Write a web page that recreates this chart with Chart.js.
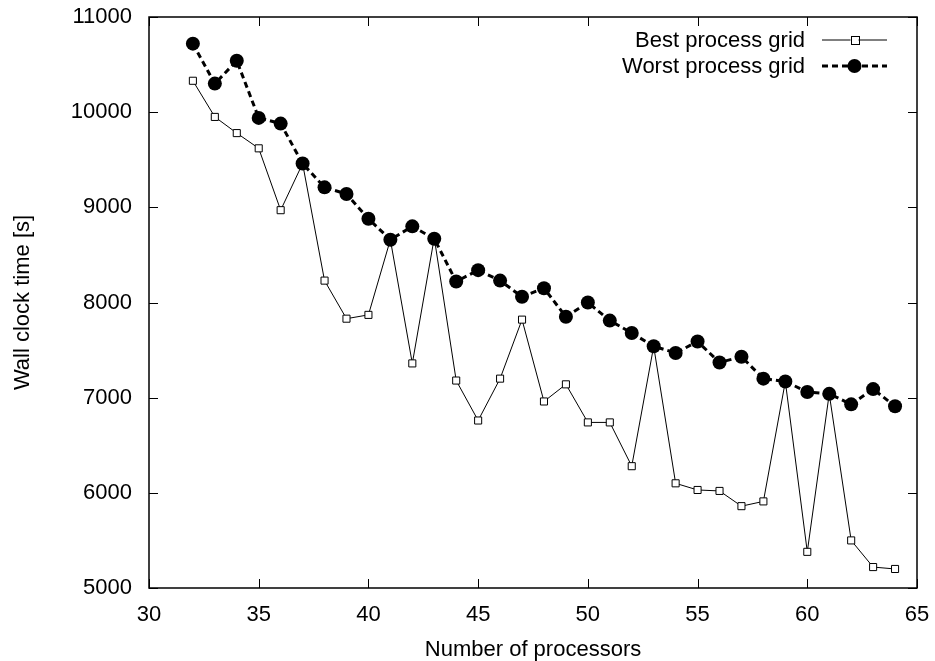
<!DOCTYPE html>
<html>
<head>
<meta charset="utf-8">
<script src="https://cdn.jsdelivr.net/npm/chart.js@4"></script>
<style>
  html, body { margin: 0; padding: 0; background: #fff; }
  #wrap { width: 935px; height: 661px; }
</style>
</head>
<body>
<div id="wrap"><canvas id="timeChart" width="935" height="661"></canvas></div>
<script>
// processor counts and wall clock times
const processors = [32, 33, 34, 35, 36, 37, 38, 39, 40, 41, 42, 43, 44, 45, 46, 47, 48,
  49, 50, 51, 52, 53, 54, 55, 56, 57, 58, 59, 60, 61, 62, 63, 64];
const bestGrid = [10330, 9950, 9780, 9620, 8970, 9460, 8230, 7830, 7870, 8660, 7360, 8680,
  7180, 6760, 7200, 7820, 6960, 7140, 6740, 6740, 6280, 7540, 6100, 6030, 6020, 5860, 5910,
  7170, 5380, 7040, 5500, 5220, 5200];
const worstGrid = [10720, 10300, 10540, 9940, 9880, 9460, 9210, 9140, 8880, 8660, 8800, 8670,
  8220, 8340, 8230, 8060, 8150, 7850, 8000, 7810, 7680, 7540, 7470, 7590, 7370, 7430, 7200,
  7170, 7060, 7040, 6930, 7090, 6910];
const seriesNames = ['Best process grid', 'Worst process grid'];
const xTicks = [30, 35, 40, 45, 50, 55, 60, 65];
const yTicks = [5000, 6000, 7000, 8000, 9000, 10000, 11000];

const FONT = "'Liberation Sans', Arial, Helvetica, sans-serif";
const FONT_SIZE = 22;

// gnuplot-style frame: full border plus inward ticks on all four sides
const framePlugin = {
  id: 'frame',
  afterDatasetsDraw(chart) {
    const { ctx, chartArea: a, scales } = chart;
    ctx.save();
    ctx.strokeStyle = '#000';
    ctx.lineWidth = 1.5;
    ctx.strokeRect(a.left, a.top, a.right - a.left, a.bottom - a.top);
    ctx.lineWidth = 1;
    const len = 9;
    ctx.beginPath();
    xTicks.forEach(v => {
      const x = Math.round(scales.x.getPixelForValue(v)) + 0.5;
      ctx.moveTo(x, a.bottom); ctx.lineTo(x, a.bottom - len);
      ctx.moveTo(x, a.top); ctx.lineTo(x, a.top + len);
    });
    yTicks.forEach(v => {
      const y = Math.round(scales.y.getPixelForValue(v)) + 0.5;
      ctx.moveTo(a.left, y); ctx.lineTo(a.left + len, y);
      ctx.moveTo(a.right, y); ctx.lineTo(a.right - len, y);
    });
    ctx.stroke();
    ctx.restore();
  }
};

// key in the top right corner, text right-aligned with sample line after it
const keyPlugin = {
  id: 'key',
  afterDraw(chart) {
    const { ctx, chartArea: a } = chart;
    ctx.save();
    ctx.font = FONT_SIZE + 'px ' + FONT;
    ctx.textAlign = 'right';
    ctx.textBaseline = 'middle';
    chart.data.datasets.forEach((ds, i) => {
      const y = a.top + 23 + i * 26;
      ctx.fillStyle = '#000';
      ctx.fillText(ds.label, a.left + 656, y + 1);
      const x0 = a.left + 673, x1 = a.left + 738, xm = (x0 + x1) / 2;
      ctx.strokeStyle = '#000';
      ctx.lineWidth = ds.borderWidth;
      ctx.setLineDash(ds.borderDash || []);
      ctx.beginPath();
      ctx.moveTo(x0, y); ctx.lineTo(x1, y);
      ctx.stroke();
      ctx.setLineDash([]);
      if (ds.pointStyle === 'rect') {
        ctx.fillStyle = '#fff';
        ctx.lineWidth = 1;
        ctx.fillRect(xm - 4, y - 4, 8, 8);
        ctx.strokeRect(Math.round(xm - 4) + 0.5, Math.round(y - 4) + 0.5, 8, 8);
      } else {
        ctx.fillStyle = '#000';
        ctx.beginPath();
        ctx.arc(xm, y, ds.pointRadius, 0, Math.PI * 2);
        ctx.fill();
      }
    });
    ctx.restore();
  }
};

const ctx = document.getElementById('timeChart').getContext('2d');
const timeChart = new Chart(ctx, {
  type: 'line',
  data: {
    datasets: [{
      label: seriesNames[0],
      data: processors.map((p, i) => ({ x: p, y: bestGrid[i] })),
      borderColor: '#000',
      borderWidth: 1,
      pointStyle: 'rect',
      pointRadius: 5,
      pointBackgroundColor: '#fff',
      pointBorderColor: '#000',
      pointBorderWidth: 1,
      tension: 0,
      order: 2
    }, {
      label: seriesNames[1],
      data: processors.map((p, i) => ({ x: p, y: worstGrid[i] })),
      borderColor: '#000',
      borderWidth: 3,
      borderDash: [6, 4],
      pointStyle: 'circle',
      pointRadius: 7,
      pointBackgroundColor: '#000',
      pointBorderColor: '#000',
      pointBorderWidth: 0,
      tension: 0,
      order: 1
    }]
  },
  options: {
    responsive: false,
    animation: false,
    layout: { padding: { top: 17, right: 18, left: 0, bottom: 0 } },
    plugins: {
      legend: { display: false },
      tooltip: { enabled: false }
    },
    scales: {
      x: {
        type: 'linear',
        min: 30,
        max: 65,
        afterBuildTicks: axis => { axis.ticks = xTicks.map(v => ({ value: v })); },
        afterFit: axis => { axis.height = 73; axis.paddingLeft = 0; axis.paddingRight = 0; },
        grid: { display: false, drawTicks: false },
        border: { display: false },
        ticks: {
          color: '#000',
          padding: 14,
          maxRotation: 0,
          font: { family: FONT, size: FONT_SIZE },
          callback: v => String(v)
        },
        title: {
          display: true,
          text: 'Number of processors',
          color: '#000',
          padding: { top: 0, bottom: -2 },
          font: { family: FONT, size: FONT_SIZE }
        }
      },
      y: {
        min: 5000,
        max: 11000,
        afterBuildTicks: axis => { axis.ticks = yTicks.map(v => ({ value: v })); },
        afterFit: axis => { axis.width = 149; axis.paddingTop = 0; axis.paddingBottom = 0; },
        grid: { display: false, drawTicks: false },
        border: { display: false },
        ticks: {
          color: '#000',
          padding: 17,
          font: { family: FONT, size: FONT_SIZE },
          callback: v => String(v)
        },
        title: {
          display: true,
          text: 'Wall clock time [s]',
          color: '#000',
          padding: { top: 10, bottom: 0 },
          font: { family: FONT, size: FONT_SIZE }
        }
      }
    }
  },
  plugins: [framePlugin, keyPlugin]
});
</script>
</body>
</html>
